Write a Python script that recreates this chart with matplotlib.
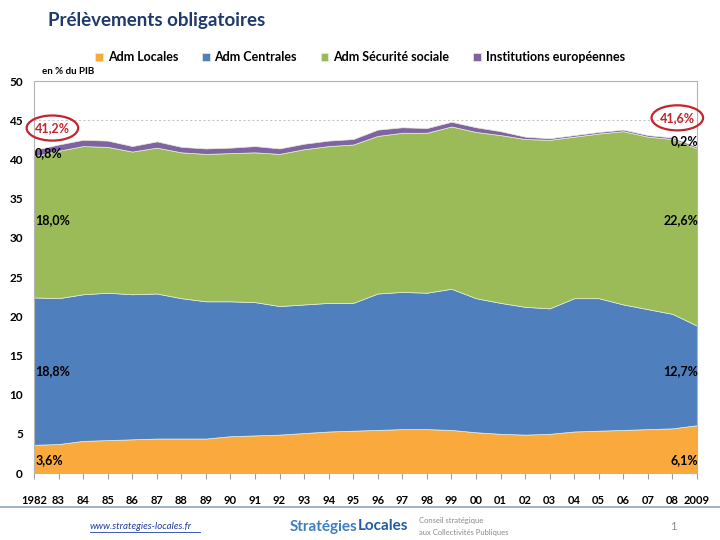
import matplotlib.pyplot as plt
from matplotlib.patches import Ellipse
import numpy as np

plt.rcParams['font.family'] = ['Lato', 'DejaVu Sans']

# Prélèvements obligatoires en % du PIB, 1982-2009
years = list(range(1982, 2010))
adm_locales = [3.6, 3.7, 4.1, 4.2, 4.3, 4.4, 4.4, 4.4, 4.7, 4.8, 4.9, 5.1, 5.3, 5.4,
               5.5, 5.6, 5.6, 5.5, 5.2, 5.0, 4.9, 5.0, 5.3, 5.4, 5.5, 5.6, 5.7, 6.1]
adm_centrales = [18.8, 18.6, 18.7, 18.8, 18.5, 18.5, 17.9, 17.5, 17.2, 17.0, 16.4, 16.4, 16.4, 16.3,
                 17.4, 17.5, 17.4, 18.0, 17.1, 16.7, 16.3, 16.0, 17.0, 16.9, 16.0, 15.3, 14.6, 12.7]
adm_secu = [18.0, 18.8, 18.9, 18.6, 18.2, 18.6, 18.6, 18.8, 18.9, 19.1, 19.4, 19.8, 20.0, 20.2,
            20.1, 20.3, 20.4, 20.7, 21.2, 21.4, 21.4, 21.5, 20.6, 21.0, 22.1, 22.0, 22.3, 22.6]
inst_europe = [0.8, 0.8, 0.8, 0.8, 0.7, 0.8, 0.7, 0.7, 0.7, 0.8, 0.7, 0.7, 0.7, 0.7,
               0.8, 0.7, 0.6, 0.6, 0.6, 0.5, 0.3, 0.2, 0.2, 0.2, 0.2, 0.2, 0.2, 0.2]

series_names = ['Adm Locales', 'Adm Centrales', 'Adm Sécurité sociale', 'Institutions européennes']
colors = ['#FAAA3C', '#4F7FBD', '#9BBB59', '#8064A2']
year_labels = ['1982'] + ['%02d' % (y % 100) for y in years[1:-1]] + ['2009']


def fmt(v):
    return ('%.1f%%' % v).replace('.', ',')


fig = plt.figure(figsize=(7.2, 5.4), dpi=100)
ax = fig.add_axes([0.0472, 0.124, 0.9208, 0.726])

ax.stackplot(years, adm_locales, adm_centrales, adm_secu, inst_europe,
             colors=colors, labels=series_names, edgecolor='#e6eedc', linewidth=0.5, zorder=2)

ax.set_xlim(1982, 2009)
ax.set_ylim(0, 50)
ax.set_yticks(range(0, 51, 5))
ax.set_xticks(years)
ax.set_xticklabels(year_labels)
ax.yaxis.grid(True, linestyle=(0, (2, 2)), color='#c8c8c8', linewidth=0.8, zorder=0)
ax.set_axisbelow(True)
ax.tick_params(axis='x', direction='out', length=4, color='#a0a0a0', pad=12, labelsize=8)
ax.tick_params(axis='y', length=0, pad=8, labelsize=8.5)
for lab in ax.get_xticklabels() + ax.get_yticklabels():
    lab.set_fontweight('bold')
for side in ['left', 'bottom', 'right', 'top']:
    ax.spines[side].set_color('#b4b4b4')
    ax.spines[side].set_linewidth(0.8)

# value labels at both ends
first = [adm_locales[0], adm_centrales[0], adm_secu[0], inst_europe[0]]
last = [adm_locales[-1], adm_centrales[-1], adm_secu[-1], inst_europe[-1]]
label_y = [1.6, 13.0, 32.3]
for v, y in zip(first[:3], label_y):
    ax.text(1982.05, y, fmt(v), ha='left', va='center', fontsize=9, fontweight='bold', color='black', zorder=5)
for v, y in zip(last[:3], label_y):
    ax.text(2009.05, y, fmt(v), ha='right', va='center', fontsize=9, fontweight='bold', color='black', zorder=5)
ax.text(1982.05, 40.8, fmt(first[3]), ha='left', va='center', fontsize=9, fontweight='bold', zorder=5)
ax.text(2009.05, 42.4, fmt(last[3]), ha='right', va='center', fontsize=9, fontweight='bold', zorder=5)

# totals circled in red
total_first = sum(first)
total_last = sum(last)
ax.text(1982.75, 44.0, fmt(total_first), ha='center', va='center', fontsize=9, fontweight='bold', color='#C0262D', zorder=5)
ax.add_patch(Ellipse((1982.75, 44.0), 2.1, 3.2, fill=False, edgecolor='#C0262D', linewidth=1.6, clip_on=False, zorder=5))
ax.text(2008.2, 45.3, fmt(total_last), ha='center', va='center', fontsize=9, fontweight='bold', color='#C0262D', zorder=5)
ax.add_patch(Ellipse((2008.2, 45.3), 2.1, 3.2, fill=False, edgecolor='#C0262D', linewidth=1.6, clip_on=False, zorder=5))

# title, legend, unit
fig.text(0.067, 0.962, 'Prélèvements obligatoires', fontsize=13.5, fontweight='bold', color='#1F3A6E', va='center')
leg = fig.legend(*ax.get_legend_handles_labels(), loc='center', bbox_to_anchor=(0.5, 0.894), ncol=4,
                 frameon=False, fontsize=9, handlelength=0.6, handleheight=0.6, columnspacing=1.9,
                 handletextpad=0.4)
for t in leg.get_texts():
    t.set_fontweight('bold')
fig.text(0.058, 0.867, 'en % du PIB', fontsize=7, fontweight='bold', va='center')

# footer
fig.add_artist(plt.Line2D([0, 1], [0.061, 0.061], color='#8EA4C0', linewidth=1.2))
fig.text(0.125, 0.025, 'www.strategies-locales.fr', fontsize=7, style='italic', color='#1F3FA0',
         va='center', ha='left')
fig.add_artist(plt.Line2D([0.125, 0.278], [0.015, 0.015], color='#1F3FA0', linewidth=0.6))
fig.text(0.497, 0.025, 'Stratégies', fontsize=11, fontweight='bold', color='#3C7FC4', va='center', ha='right')
fig.text(0.497, 0.025, 'Locales', fontsize=11, fontweight='bold', color='#2159A3', va='center', ha='left')
fig.text(0.582, 0.037, 'Conseil stratégique', fontsize=5.5, color='#8a8a8a', va='center', ha='left')
fig.text(0.582, 0.014, 'aux Collectivités Publiques', fontsize=5.5, color='#8a8a8a', va='center', ha='left')
fig.text(0.935, 0.025, '1', fontsize=8, color='#8a8a8a', va='center', ha='center')

fig.savefig('out.png', dpi=100)
